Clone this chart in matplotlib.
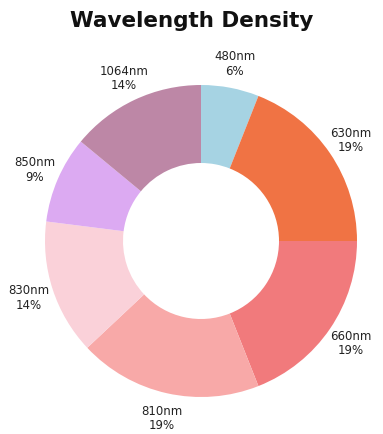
import matplotlib
matplotlib.use("Agg")
import matplotlib.pyplot as plt
import numpy as np

# data
labels = ["480nm", "630nm", "660nm", "810nm", "830nm", "850nm", "1064nm"]
shares = [6, 19, 19, 19, 14, 9, 14]
colors = ["#a6d3e3", "#f07344", "#f17a7c", "#f8a9a8", "#fad1d9", "#dcaaf2", "#bd87a6"]

fig = plt.figure(figsize=(3.83, 4.35), dpi=100)
ax = fig.add_axes([45 / 383, 37 / 435, 312 / 383, 312 / 435])

wedges, _ = ax.pie(
    shares,
    colors=colors,
    startangle=90,
    counterclock=False,
    radius=1.0,
    wedgeprops=dict(width=0.5, linewidth=0),
)

# labels outside each wedge, centered on the mid angle
for w, name, pct in zip(wedges, labels, shares):
    mid = np.deg2rad((w.theta1 + w.theta2) / 2)
    r = 1.16
    ax.text(
        r * np.cos(mid),
        r * np.sin(mid),
        f"{name}\n{pct}%",
        ha="center",
        va="center",
        fontsize=8.5,
        color="#222222",
        linespacing=1.15,
        clip_on=False,
    )

ax.set_xlim(-1, 1)
ax.set_ylim(-1, 1)
ax.set_aspect("equal")
ax.axis("off")

fig.text(0.5, 1 - 21 / 435, "Wavelength Density", ha="center", va="center",
         fontsize=15.5, fontweight="bold", color="#111111")

fig.savefig("out.png", dpi=100)
